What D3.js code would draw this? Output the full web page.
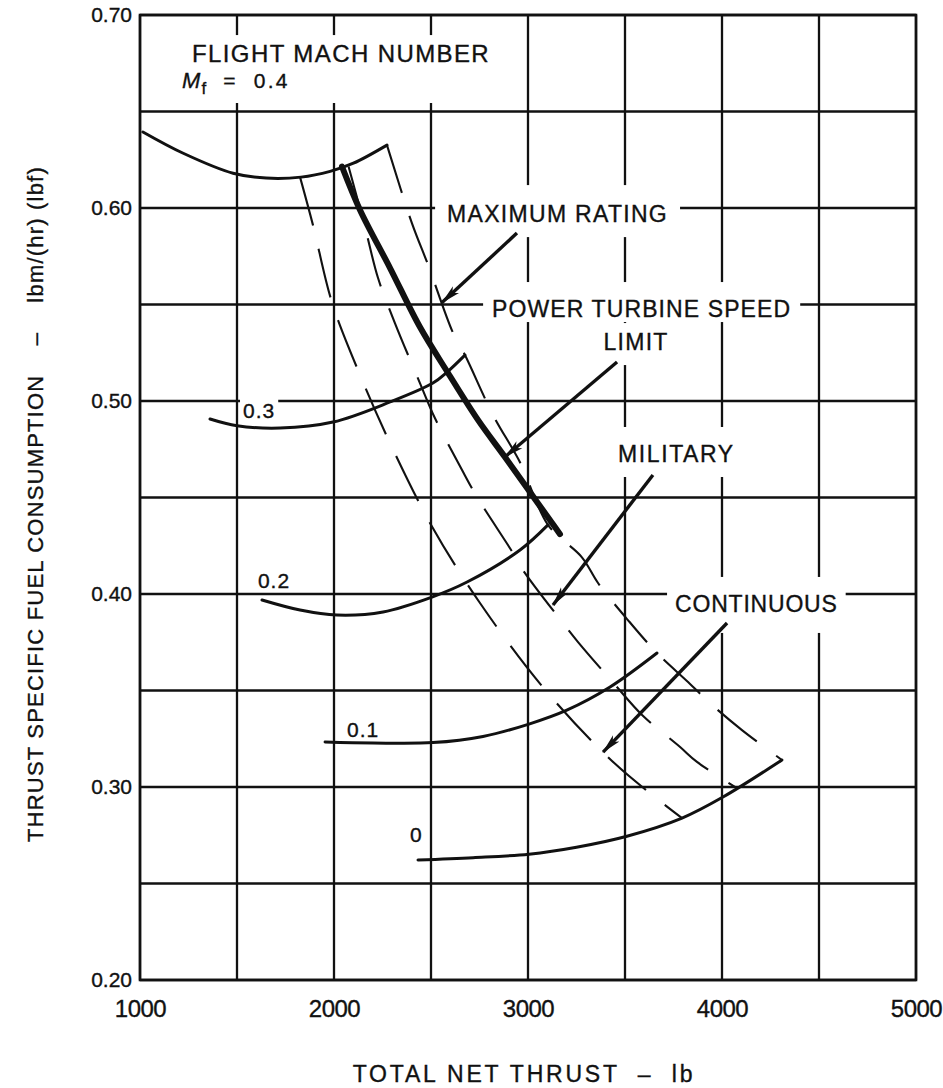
<!DOCTYPE html>
<html><head><meta charset="utf-8">
<script src="https://cdn.jsdelivr.net/npm/d3@7"></script>
<style>
body{margin:0;background:#fff}
text{font-family:"Liberation Sans",Arial,sans-serif;fill:#111;stroke:#111;stroke-width:0.35px}
</style>
</head><body>
<svg id="c" width="943" height="1088"></svg>
<script>
// ---------- data ----------
const xTickLabels = [1000, 2000, 3000, 4000, 5000];
const yTickLabels = [0.20, 0.30, 0.40, 0.50, 0.60, 0.70];
const xGridValues = [1000, 1500, 2000, 2500, 3000, 3500, 4000, 4500, 5000];
const yGridValues = [0.20, 0.25, 0.30, 0.35, 0.40, 0.45, 0.50, 0.55, 0.60, 0.65, 0.70];
const machNumbers = ["0.4", "0.3", "0.2", "0.1", "0"];

// thrust (lb), TSFC
const mach04 = [[1015,0.6394],[1220,0.6285],[1480,0.618],[1650,0.6155],[1830,0.616],[1980,0.619],[2100,0.6232],[2273,0.6326]];
const mach03 = [[1361,0.4907],[1500,0.4872],[1722,0.486],[1995,0.4891],[2289,0.4995],[2510,0.5093],[2583,0.515],[2675,0.5238]];
const mach02 = [[1629,0.3969],[1825,0.3917],[2015,0.3891],[2253,0.3907],[2505,0.3984],[2686,0.4062],[2959,0.4228],[3103,0.4358]];
const mach01 = [[1954,0.3233],[2201,0.3228],[2510,0.3230],[2768,0.3262],[3005,0.3326],[3200,0.3398],[3423,0.3518],[3665,0.3694]];
const mach00 = [[2433,0.2622],[2717,0.2634],[3005,0.2652],[3250,0.2688],[3510,0.2745],[3794,0.2839],[4005,0.2948],[4309,0.314]];

const maximumRating = [[2273,0.6326],[2402,0.592],[2485,0.5705],[2614,0.5352],[2675,0.5238],[2820,0.4927],[2960,0.468],[3103,0.4358],[3278,0.419],[3361,0.4057],[3515,0.3865],[3665,0.3694],[3825,0.3544],[3938,0.3435],[4103,0.3295],[4309,0.314]];
const military = [[2075,0.6215],[2160,0.590],[2227,0.5637],[2314,0.5404],[2443,0.5093],[2520,0.4912],[2660,0.4642],[2737,0.4503],[2923,0.4212],[2974,0.4124],[3180,0.385],[3258,0.3751],[3449,0.3529],[3588,0.3373],[3784,0.3207],[3871,0.313],[4075,0.2995]];
const continuous = [[1825,0.616],[1892,0.591],[1990,0.551],[2134,0.5135],[2299,0.476],[2505,0.435],[2748,0.396],[3083,0.351],[3449,0.312],[3794,0.2839]];
const turbineLimit = [[2041,0.6215],[2134,0.599],[2289,0.5689],[2443,0.5383],[2588,0.5145],[2742,0.4902],[2881,0.471],[3010,0.4528],[3124,0.4368],[3165,0.431]];

// ---------- setup ----------
const svg = d3.select("#c");
const x = d3.scaleLinear().domain([1000, 5000]).range([140, 916]);
const y = d3.scaleLinear().domain([0.20, 0.70]).range([980, 15]);

const gGrid = svg.append("g");
const gKnock = svg.append("g");
const gMarks = svg.append("g");
const gText = svg.append("g");

svg.append("defs").append("marker")
  .attr("id","ah").attr("viewBox","0 0 20 10").attr("refX",19).attr("refY",5)
  .attr("markerWidth",20).attr("markerHeight",10).attr("markerUnits","userSpaceOnUse")
  .attr("orient","auto")
  .append("path").attr("d","M0,0.5 L20,5 L0,9.5 L5,5 Z").attr("fill","#111");

// grid
gGrid.selectAll("line.v").data(xGridValues).join("line")
  .attr("x1", d => x(d)).attr("x2", d => x(d))
  .attr("y1", y(0.70)).attr("y2", y(0.20))
  .attr("stroke","#111").attr("stroke-width", 2.3);
gGrid.selectAll("line.h").data(yGridValues).join("line")
  .attr("y1", d => y(d)).attr("y2", d => y(d))
  .attr("x1", x(1000)).attr("x2", x(5000))
  .attr("stroke","#111").attr("stroke-width", 2.3);

// axes tick labels
const ax = svg.append("g").attr("transform", `translate(0,${y(0.20)})`)
  .call(d3.axisBottom(x).tickValues(xTickLabels).tickSize(0).tickPadding(14).tickFormat(d3.format("d")));
ax.select(".domain").remove();
ax.selectAll("text").style("font-size","24px").style("font-family","'Liberation Sans',Arial,sans-serif")
  .attr("fill","#111").attr("stroke","#111").attr("stroke-width",0.4).attr("dy","0.95em").attr("letter-spacing","-0.5");

const ay = svg.append("g").attr("transform", `translate(${x(1000)},0)`)
  .call(d3.axisLeft(y).tickValues(yTickLabels).tickSize(0).tickPadding(8).tickFormat(d3.format(".2f")));
ay.select(".domain").remove();
ay.selectAll("text").style("font-size","21px").style("font-family","'Liberation Sans',Arial,sans-serif")
  .attr("fill","#111").attr("stroke","#111").attr("stroke-width",0.4);

// line generator
const lineC = d3.line().x(d => x(d[0])).y(d => y(d[1])).curve(d3.curveCatmullRom.alpha(0.5));

// curves
[mach04, mach03, mach02, mach01, mach00].forEach(s => {
  gMarks.append("path").attr("d", lineC(s)).attr("fill","none")
    .attr("stroke","#111").attr("stroke-width",3).attr("stroke-linecap","round");
});
[maximumRating, military, continuous].forEach(s => {
  gMarks.append("path").attr("d", lineC(s)).attr("fill","none")
    .attr("stroke","#111").attr("stroke-width",2.1).attr("stroke-dasharray","50,24");
});
gMarks.append("path").attr("d", lineC(turbineLimit)).attr("fill","none")
  .attr("stroke","#111").attr("stroke-width",6).attr("stroke-linecap","round");

// plot border
gMarks.append("rect").attr("x", x(1000)).attr("y", y(0.70))
  .attr("width", x(5000)-x(1000)).attr("height", y(0.20)-y(0.70))
  .attr("fill","none").attr("stroke","#111").attr("stroke-width",2.6);

// arrows
const arrows = [
  [[2943,0.587],[2557,0.551]],
  [[3459,0.5202],[2881,0.471]],
  [[3644,0.4617],[3129,0.3943]],
  [[4026,0.385],[3387,0.3181]]
];
arrows.forEach(a => {
  gMarks.append("line").attr("x1",x(a[0][0])).attr("y1",y(a[0][1]))
    .attr("x2",x(a[1][0])).attr("y2",y(a[1][1]))
    .attr("stroke","#111").attr("stroke-width",3.4).attr("marker-end","url(#ah)");
});

// annotation text with knock-outs
function label(str, tx, ty, opts) {
  opts = opts || {};
  const t = gText.append("text").attr("x", x(tx)).attr("y", y(ty))
    .attr("font-size", opts.size || 23).attr("letter-spacing", opts.ls != null ? opts.ls : 1.3)
    .attr("text-anchor", opts.anchor || "start").text(str);
  if (opts.knock) {
    const b = t.node().getBBox();
    const [ph, pt, pb] = opts.knock;
    gKnock.append("rect").attr("x", b.x - ph).attr("y", b.y - pt)
      .attr("width", b.width + 2*ph).attr("height", b.height + pt + pb).attr("fill","#fff");
  }
  return t;
}

// title block
label("FLIGHT MACH NUMBER", 1268, 0.6756, {size:24, ls:1.4});
const mt = gText.append("text").attr("x", x(1217)).attr("y", y(0.6622)).attr("font-size",21).attr("letter-spacing",1);
mt.append("tspan").attr("font-style","italic").attr("font-size",22).text("M");
mt.append("tspan").attr("font-size",17).attr("dy",6).text("f");
mt.append("tspan").attr("dy",-6).attr("letter-spacing",2.2).attr("xml:space","preserve").text("  =  " + machNumbers[0]);
gKnock.append("rect").attr("x", x(1000)+2).attr("y", y(0.6896))
  .attr("width", x(2856)-x(1000)-2).attr("height", y(0.6544)-y(0.6896)).attr("fill","#fff");

label("MAXIMUM RATING", 2583, 0.5927, {knock:[12,16,10]});
label("POWER TURBINE SPEED", 2815, 0.5435, {knock:[9,14,0], ls:1.1});
label("LIMIT", 3557, 0.5264, {anchor:"middle", knock:[8,6,10]});
label("MILITARY", 3464, 0.4684, {knock:[7,14,10], ls:1.6});
label("CONTINUOUS", 3758, 0.3907, {knock:[8,14,16], ls:0.8});

// Mach labels
label(machNumbers[1], 1531, 0.4912, {size:21, ls:1, knock:[3,1,0]});
label(machNumbers[2], 1608, 0.4031, {size:21, ls:1});
label(machNumbers[3], 2067, 0.3259, {size:21, ls:1});
label(machNumbers[4], 2392, 0.2715, {size:21, ls:1});

// axis titles
gText.append("text").attr("x", 524).attr("y", 1082)
  .attr("text-anchor","middle").attr("font-size",23).attr("letter-spacing",2.8)
  .attr("xml:space","preserve").text("TOTAL NET THRUST  –  lb");
gText.append("text").attr("transform", `translate(43,842) rotate(-90)`)
  .attr("text-anchor","start").attr("font-size",22).attr("letter-spacing",1.2)
  .attr("xml:space","preserve").text("THRUST SPECIFIC FUEL CONSUMPTION    –    lbm/(hr) (lbf)");
</script>
</body></html>
